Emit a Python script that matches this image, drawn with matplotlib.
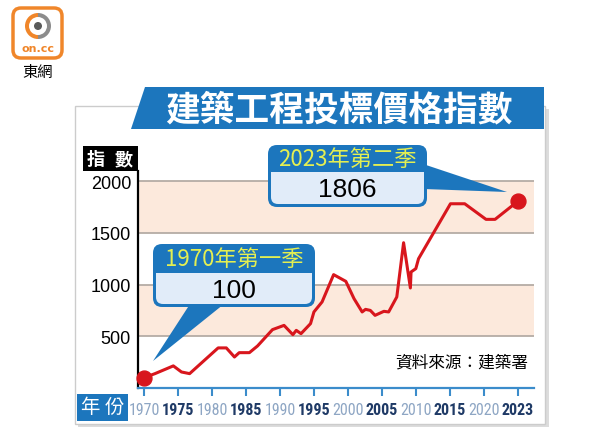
import matplotlib
matplotlib.use('Agg')
import matplotlib.pyplot as plt
import numpy as np
from matplotlib import font_manager
from matplotlib.patches import FancyBboxPatch, Polygon, Rectangle, Circle, Wedge

plt.rcParams['font.family'] = ['Noto Sans CJK TC', 'DejaVu Sans']

# data
years = [1970.0, 1971.6, 1974.3, 1975.5, 1976.7, 1980.9, 1982.1, 1983.3, 1984.0,
         1985.5, 1986.7, 1988.9, 1990.6, 1991.9, 1992.4, 1993.1, 1994.5, 1995.0,
         1996.2, 1997.9, 1999.7, 2000.9, 2002.1, 2002.6, 2003.3, 2004.0, 2005.3,
         2006.0, 2007.2, 2008.2, 2009.2, 2009.3, 2010.0, 2010.4, 2015.1, 2017.2,
         2020.2, 2021.0, 2023.0]
values = [100, 139, 214, 155, 139, 388, 388, 300, 342,
          342, 407, 565, 606, 516, 558, 526, 623, 736,
          833, 1097, 1032, 865, 736, 761, 751, 703, 742,
          736, 881, 1406, 968, 1123, 1155, 1251, 1783, 1783,
          1632, 1632, 1806]
tick_years = [1970, 1975, 1980, 1985, 1990, 1995, 2000, 2005, 2010, 2015, 2020, 2023]
y_ticks = [500, 1000, 1500, 2000]
title = '建築工程投標價格指數'
source = '資料來源：建築署'
start_label, start_value = '1970年第一季', '100'
end_label, end_value = '2023年第二季', '1806'

blue = '#1c76bd'
red = '#d8161d'
peach = '#fce9dc'


def to_pos(yr):
    # last tick (2023) sits one full step after 2020 in the original
    return np.interp(yr, [1970, 2020, 2023], [0, 10, 11])


names = {f.name for f in font_manager.fontManager.ttflist}
narrow = next((n for n in ['Roboto Condensed', 'Liberation Sans Narrow', 'Archivo Narrow',
                           'Barlow Semi Condensed', 'Asap Condensed'] if n in names), 'DejaVu Sans')

fig = plt.figure(figsize=(6.09, 4.35), dpi=100)

# background layer in pixel coords
bg = fig.add_axes([0, 0, 1, 1])
bg.set_xlim(0, 609)
bg.set_ylim(435, 0)
bg.axis('off')
bg.set_zorder(0)

bg.add_patch(Rectangle((78, 110), 471, 318, fc='#dcdcdc', ec='none'))
bg.add_patch(Rectangle((75, 107), 470, 318, fc='white', ec='#cccccc', lw=1))
bg.add_patch(Polygon([(145, 88), (544, 88), (544, 130), (131, 130)], closed=True, fc=blue, ec='none'))
bg.text(339, 110, title, color='white', fontsize=25, fontweight='bold', ha='center', va='center')

bg.add_patch(Rectangle((83, 147), 55, 25, fc='black', ec='none'))
bg.text(96, 160, '指', color='white', fontsize=13, fontweight='bold', ha='center', va='center')
bg.text(124, 160, '數', color='white', fontsize=13, fontweight='bold', ha='center', va='center')

bg.add_patch(Rectangle((77, 395), 51, 27, fc=blue, ec='none'))
bg.text(90, 408, '年', color='white', fontsize=14, ha='center', va='center')
bg.text(114, 408, '份', color='white', fontsize=14, ha='center', va='center')

# logo
bg.add_patch(FancyBboxPatch((13, 9), 49, 50, boxstyle='round,pad=0,rounding_size=8',
                            fc='white', ec='#f0862a', lw=2.5))
bg.add_patch(Wedge((38, 27), 13, 90, 270, width=4, fc='#f0862a', ec='none'))
bg.add_patch(Wedge((38, 27), 13, -90, 90, width=4, fc='#8c8c8c', ec='none'))
bg.add_patch(Circle((38, 27), 4, fc='#5a5a5a', ec='none'))
bg.text(38, 49, 'on.cc', color='#f0862a', fontsize=8, fontweight='bold', ha='center', va='center',
        family='DejaVu Sans')
bg.text(38, 72, '東網', color='black', fontsize=11, ha='center', va='center')

# chart
ax = fig.add_axes([138 / 609, (435 - 389) / 435, 396 / 609, 217 / 435])
ax.set_zorder(1)
ax.set_xlim(-0.18, 11.48)
ax.set_ylim(0, 2100)
ax.axhspan(1500, 2000, color=peach, lw=0, zorder=0)
ax.axhspan(500, 1000, color=peach, lw=0, zorder=0)
for v in y_ticks:
    ax.axhline(v, color='#b5aca5', lw=1.3, zorder=1)

pos = to_pos(years)
ax.plot(pos, values, color=red, lw=2.2, solid_joinstyle='round', zorder=3)
ax.scatter([pos[0], pos[-1]], [values[0], values[-1]], s=115, color=red, zorder=4, clip_on=False)

for s in ['top', 'right']:
    ax.spines[s].set_visible(False)
ax.spines['left'].set_color('black')
ax.spines['left'].set_linewidth(1.6)
ax.spines['bottom'].set_color('#3b8ccb')
ax.spines['bottom'].set_linewidth(1.6)

ax.set_xticks(to_pos(tick_years))
ax.set_xticklabels([str(y) for y in tick_years])
ax.tick_params(axis='x', direction='out', length=6, width=1.5, color='#3b8ccb', pad=4)
for i, lbl in enumerate(ax.get_xticklabels()):
    lbl.set_family(narrow)
    lbl.set_fontsize(11.5)
    if i % 2:
        lbl.set_color('#1f3a66')
        lbl.set_fontweight('bold')
    else:
        lbl.set_color('#8ea6c4')

ax.set_yticks(y_ticks)
ax.tick_params(axis='y', length=0, pad=5)
for lbl in ax.get_yticklabels():
    lbl.set_family('Liberation Sans')
    lbl.set_fontsize(13)

# callouts on top
ov = fig.add_axes([0, 0, 1, 1])
ov.set_xlim(0, 609)
ov.set_ylim(435, 0)
ov.axis('off')
ov.set_zorder(2)
ov.patch.set_alpha(0)


def callout(x0, y0, x1, y1, ydiv, tail, top_text, bottom_text):
    ov.add_patch(Polygon(tail, closed=True, fc=blue, ec='none'))
    ov.add_patch(FancyBboxPatch((x0, y0), x1 - x0, y1 - y0, boxstyle='round,pad=0,rounding_size=9',
                                fc=blue, ec='none'))
    ov.add_patch(FancyBboxPatch((x0 + 3, ydiv), x1 - x0 - 6, y1 - ydiv - 3,
                                boxstyle='round,pad=0,rounding_size=7', fc='#e1ecf9', ec='none'))
    ov.add_patch(Rectangle((x0 + 3, ydiv), x1 - x0 - 6, 10, fc='#e1ecf9', ec='none'))
    cx = (x0 + x1) / 2
    ov.text(cx, (y0 + ydiv) / 2, top_text, color='#e4ef52', fontsize=16, ha='center', va='center')
    ov.text(cx, (ydiv + y1) / 2, bottom_text, color='black', fontsize=19, ha='center', va='center',
            family='Liberation Sans')


callout(153, 245, 315, 308, 274, [(190, 305), (224, 305), (153, 362)], start_label, start_value)
callout(268, 146, 427, 208, 173, [(414, 162), (424, 190), (507, 193)], end_label, end_value)

ov.text(528, 363, source, color='black', fontsize=12, ha='right', va='center')

fig.savefig('out.png', dpi=100)
